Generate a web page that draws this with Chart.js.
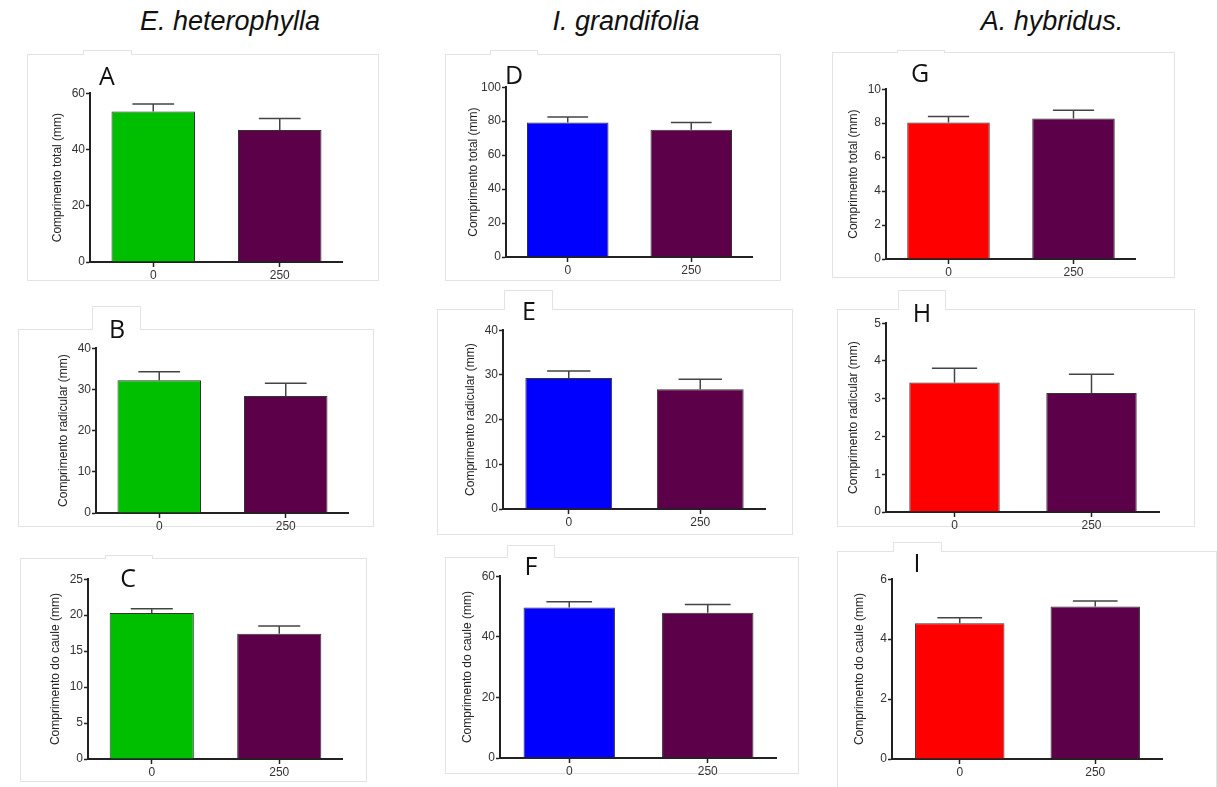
<!DOCTYPE html>
<html>
<head>
<meta charset="utf-8">
<script src="https://cdn.jsdelivr.net/npm/chart.js@4.4.0/dist/chart.umd.min.js"></script>
<style>
  body { margin: 0; background: #fff; width: 1217px; height: 787px; position: relative; overflow: hidden; }
  .species { position: absolute; top: 6px; font: italic 27px "Liberation Sans", Arial, sans-serif; color: #111; transform: translateX(-50%); white-space: nowrap; }
  .box { position: absolute; border: 1px solid #e3e3e3; box-sizing: border-box; }
  .tab { position: absolute; border: 1px solid #e3e3e3; border-bottom: none; background: #fff; box-sizing: border-box; }
  .letter { position: absolute; font: 25px "Open Sans", sans-serif; color: #111; transform: translate(-50%, -50%); }
  canvas { position: absolute; }
</style>
</head>
<body>
<div class="species" style="left:230px">E. heterophylla</div>
<div class="species" style="left:626px">I. grandifolia</div>
<div class="species" style="left:1052px">A. hybridus.</div>
<script>
const doses = ['0', '250'];

// E. heterophylla
const totalEh = [53.5, 46.9];
const totalEhErr = [2.7, 4.1];
const raizEh = [32.2, 28.4];
const raizEhErr = [2.1, 3.1];
const cauleEh = [20.3, 17.4];
const cauleEhErr = [0.6, 1.1];

// I. grandifolia
const totalIg = [79.2, 74.9];
const totalIgErr = [3.3, 4.3];
const raizIg = [29.3, 26.8];
const raizIgErr = [1.6, 2.2];
const cauleIg = [49.7, 47.9];
const cauleIgErr = [1.9, 2.8];

// A. hybridus
const totalAh = [8.04, 8.27];
const totalAhErr = [0.35, 0.49];
const raizAh = [3.43, 3.15];
const raizAhErr = [0.38, 0.50];
const cauleAh = [4.53, 5.09];
const cauleAhErr = [0.18, 0.18];

const green = '#00bf00', blue = '#0000ff', red = '#ff0000', purple = '#5c0049';

const errorBars = {
  id: 'errorBars',
  afterDatasetsDraw(chart) {
    const ctx = chart.ctx;
    const ds = chart.data.datasets[0];
    const meta = chart.getDatasetMeta(0);
    const y = chart.scales.y;
    ctx.save();
    ctx.strokeStyle = '#444';
    ctx.lineWidth = 1.5;
    meta.data.forEach((bar, i) => {
      const top = y.getPixelForValue(ds.data[i] + ds.errors[i]);
      const half = bar.width / 4;
      ctx.beginPath();
      ctx.moveTo(bar.x, bar.y);
      ctx.lineTo(bar.x, top);
      ctx.moveTo(bar.x - half, top);
      ctx.lineTo(bar.x + half, top);
      ctx.stroke();
    });
    ctx.restore();
  }
};

function addBox(l, t, r, b, tl, tt, tr) {
  const tab = document.createElement('div');
  tab.className = 'tab';
  tab.style.cssText = `left:${tl}px;top:${tt}px;width:${tr - tl}px;height:${t - tt + 1}px`;
  const box = document.createElement('div');
  box.className = 'box';
  box.style.cssText = `left:${l}px;top:${t}px;width:${r - l}px;height:${b - t}px`;
  document.body.appendChild(box);
  document.body.appendChild(tab);
}

function addLetter(txt, x, y) {
  const d = document.createElement('div');
  d.className = 'letter';
  d.textContent = txt;
  d.style.left = x + 'px';
  d.style.top = y + 'px';
  document.body.appendChild(d);
}

function panel(axisX, topY, zeroY, xEnd, values, errs, color, yMax, step, yTitle) {
  const cv = document.createElement('canvas');
  const w = Math.round(xEnd - axisX + 40);
  const h = Math.round(zeroY - topY + 8 + 24);
  cv.width = w; cv.height = h;
  cv.style.left = Math.round(axisX - 40) + 'px';
  cv.style.top = Math.round(topY - 8) + 'px';
  cv.style.width = w + 'px';
  cv.style.height = h + 'px';
  document.body.appendChild(cv);
  new Chart(cv.getContext('2d'), {
    type: 'bar',
    data: {
      labels: doses,
      datasets: [{
        data: values,
        errors: errs,
        backgroundColor: [color, purple],
        borderColor: '#333',
        borderWidth: 1,
        barPercentage: 0.66,
        categoryPercentage: 1
      }]
    },
    options: {
      responsive: false,
      animation: false,
      layout: { padding: { top: 8, right: 0, bottom: 0, left: 0 } },
      plugins: { legend: { display: false }, tooltip: { enabled: false } },
      scales: {
        x: {
          afterFit: s => { s.height = 24; },
          grid: { offset: false, drawOnChartArea: false, tickLength: 5, tickColor: '#222', tickWidth: 1.5 },
          border: { color: '#222', width: 2 },
          ticks: { color: '#333', padding: 1, font: { family: 'Liberation Sans', size: 12 } }
        },
        y: {
          min: 0, max: yMax,
          afterFit: s => { s.width = 40; },
          grid: { drawOnChartArea: false, tickLength: 4, tickColor: '#222', tickWidth: 1.5 },
          border: { color: '#222', width: 2 },
          ticks: { stepSize: step, color: '#333', padding: 1, font: { family: 'Liberation Sans', size: 12 } },
          title: { display: true, text: yTitle, color: '#222', padding: 0, font: { family: 'Liberation Sans', size: 12 } }
        }
      }
    },
    plugins: [errorBars]
  });
}

const tTotal = 'Comprimento total (mm)';
const tRaiz = 'Comprimento radicular (mm)';
const tCaule = 'Comprimento do caule (mm)';

addBox(27, 54, 379, 281, 83, 50, 132);
addBox(445, 54, 781, 281, 490, 50, 538);
addBox(832, 52, 1175, 278, 897, 50, 945);
addBox(18, 329, 374, 527, 92, 306, 141);
addBox(437, 309, 793, 535, 504, 290, 553);
addBox(837, 309, 1195, 527, 898, 290, 946);
addBox(20, 558, 367, 782, 105, 555, 153);
addBox(445, 557, 799, 774, 507, 545, 555);
addBox(837, 551, 1217, 790, 893, 542, 942);

panel(90, 92.7, 261.7, 342.7, totalEh, totalEhErr, green, 60, 20, tTotal);
panel(96, 347.7, 512.7, 349, raizEh, raizEhErr, green, 40, 10, tRaiz);
panel(87.7, 579.3, 759, 342.7, cauleEh, cauleEhErr, green, 25, 5, tCaule);

panel(506, 87.3, 257.3, 753, totalIg, totalIgErr, blue, 100, 20, tTotal);
panel(503.3, 330, 509.3, 766, raizIg, raizIgErr, blue, 40, 10, tRaiz);
panel(500, 576, 758.3, 776.7, cauleIg, cauleIgErr, blue, 60, 20, tCaule);

panel(885.7, 89.3, 259.3, 1136, totalAh, totalAhErr, red, 10, 2, tTotal);
panel(886, 323.3, 512.7, 1160, raizAh, raizAhErr, red, 5, 1, tRaiz);
panel(891.7, 579.3, 759.3, 1163, cauleAh, cauleAhErr, red, 6, 2, tCaule);

addLetter('A', 107, 75);
addLetter('B', 117, 328);
addLetter('C', 128, 577);
addLetter('D', 514, 74);
addLetter('E', 529, 310);
addLetter('F', 531, 565);
addLetter('G', 920, 72);
addLetter('H', 922, 312);
addLetter('I', 917, 562);
</script>
</body>
</html>
